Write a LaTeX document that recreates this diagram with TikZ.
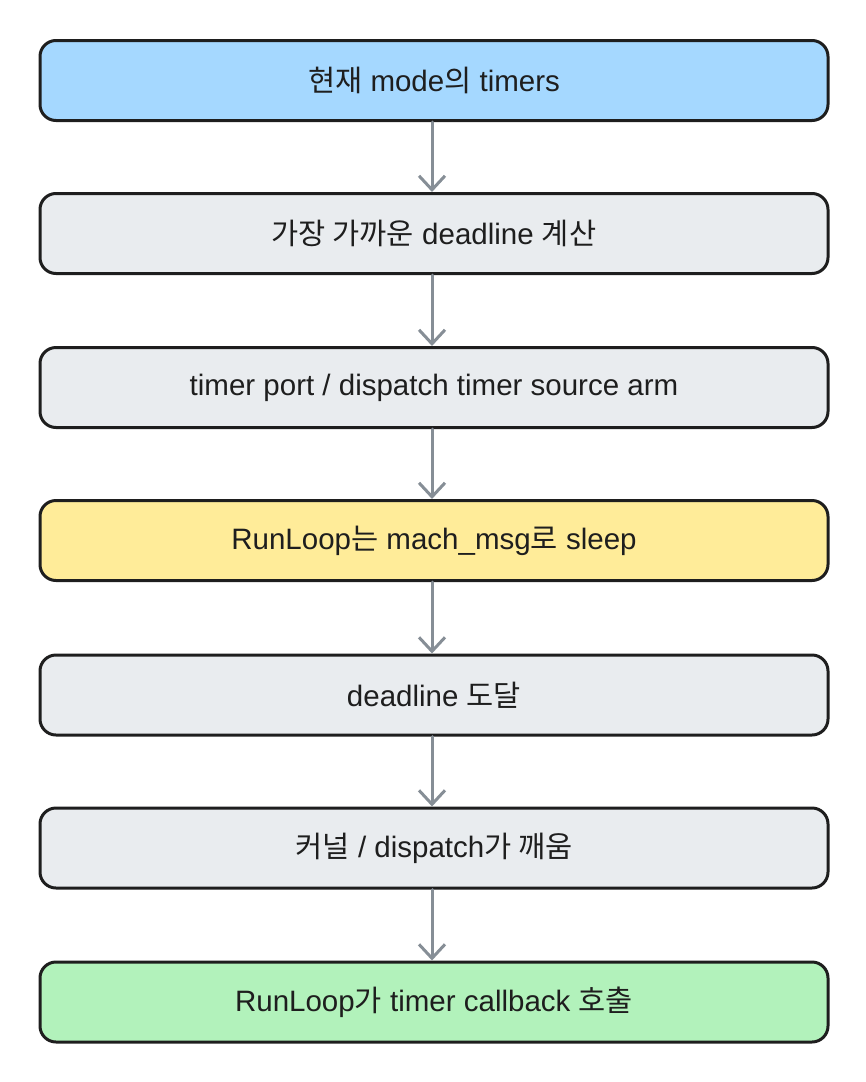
\documentclass[tikz,border=0pt]{standalone}
\usepackage{fontspec}
\setmainfont{Liberation Sans}
\newfontfamily\ko{Noto Sans CJK KR}
\usetikzlibrary{arrows.meta}
\definecolor{cblue}{HTML}{A5D8FF}
\definecolor{cgray}{HTML}{E9ECEF}
\definecolor{cyellow}{HTML}{FFEC99}
\definecolor{cgreen}{HTML}{B2F2BB}
\definecolor{cline}{HTML}{1E1E1E}
\definecolor{carrow}{HTML}{868E96}
\begin{document}
\begin{tikzpicture}[x=1pt,y=-1pt,
  box/.style={draw=cline, line width=3pt, rounded corners=16pt, minimum width=788pt, minimum height=80pt, inner sep=0pt, font=\fontsize{29.5pt}{34pt}\selectfont, text=cline},
  flow/.style={draw=carrow, line width=3pt, -{Straight Barb[length=14pt,width=26pt,line width=3pt]}, line cap=round}]
\useasboundingbox (0,0) rectangle (866,1082);
\node[box, fill=cblue] (b1) at (434,80.5) {{\ko 현재} mode{\ko 의} timers};
\node[box, fill=cgray] (b2) at (434,233.5) {{\ko 가장 가까운} deadline {\ko 계산}};
\node[box, fill=cgray] (b3) at (434,387.5) {timer port / dispatch timer source arm};
\node[box, fill=cyellow] (b4) at (434,540.5) {RunLoop{\ko 는} mach\_msg{\ko 로} sleep};
\node[box, fill=cgray] (b5) at (434,695) {deadline {\ko 도달}};
\node[box, fill=cgray] (b6) at (434,848) {{\ko 커널} / dispatch{\ko 가 깨움}};
\node[box, fill=cgreen] (b7) at (434,1002) {RunLoop{\ko 가} timer callback {\ko 호출}};
\foreach \a/\b in {b1/b2,b2/b3,b3/b4,b4/b5,b5/b6,b6/b7}{
  \draw[flow] ([xshift=-2pt]\a.south) -- ([xshift=-2pt]\b.north);
}
\end{tikzpicture}
\end{document}
